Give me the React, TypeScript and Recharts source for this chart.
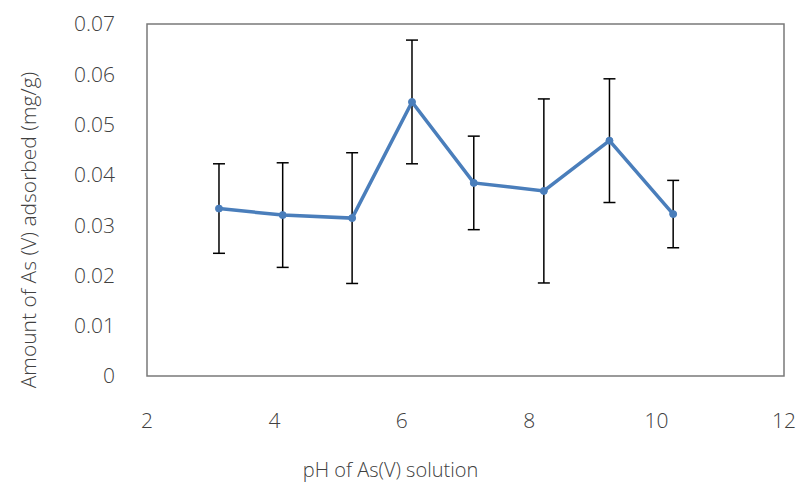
import React from 'react';
import {
  LineChart,
  Line,
  XAxis,
  YAxis,
  ErrorBar,
  ReferenceArea,
} from 'recharts';

// pH of the As(V) solution
const PH = [3.13, 4.13, 5.22, 6.16, 7.13, 8.23, 9.26, 10.26];
// amount of As(V) adsorbed (mg/g)
const ADSORBED = [0.0333, 0.032, 0.0314, 0.0545, 0.0384, 0.0368, 0.0468, 0.0322];
// standard deviation
const STD = [0.0089, 0.0104, 0.013, 0.0123, 0.0093, 0.0183, 0.0123, 0.0067];

const X_TICKS = [2, 4, 6, 8, 10, 12];
const Y_TICKS = [0, 0.01, 0.02, 0.03, 0.04, 0.05, 0.06, 0.07];

const X_TITLE = 'pH of As(V) solution';
const Y_TITLE = 'Amount of As (V) adsorbed (mg/g)';

const FONT = '"Open Sans", "Noto Sans", sans-serif';
const TEXT_COLOR = '#404040';

const data = PH.map((ph, i) => ({ ph, value: ADSORBED[i], err: STD[i] }));

export default function App() {
  return (
    <div style={{ position: 'absolute', left: 0, top: 0, width: 800, height: 483, background: '#fff' }}>
      <LineChart
        width={800}
        height={483}
        data={data}
        margin={{ top: 24, right: 16, left: 47, bottom: 47 }}
        style={{ fontFamily: FONT }}
      >
        <XAxis
          dataKey="ph"
          type="number"
          domain={[2, 12]}
          ticks={X_TICKS}
          axisLine={false}
          tickLine={false}
          tickSize={0}
          tickMargin={37}
          height={60}
          tick={{ fill: TEXT_COLOR, fontSize: 21, fontWeight: 300 }}
          label={{
            content: ({ viewBox }: any) => (
              <text
                x={viewBox.x + viewBox.width / 2 - 75}
                y={viewBox.y + viewBox.height + 41}
                textAnchor="middle"
                fill={TEXT_COLOR}
                fontSize={20}
                fontWeight={300}
                fontFamily={FONT}
              >
                {X_TITLE}
              </text>
            ),
          }}
        />
        <YAxis
          type="number"
          domain={[0, 0.07]}
          ticks={Y_TICKS}
          axisLine={false}
          tickLine={false}
          tickSize={0}
          tickMargin={32}
          width={100}
          tick={{ fill: TEXT_COLOR, fontSize: 21, fontWeight: 300 }}
          label={{
            content: ({ viewBox }: any) => {
              const cx = viewBox.x - 19;
              const cy = viewBox.y + viewBox.height / 2 + 30;
              return (
                <text
                  x={cx}
                  y={cy}
                  transform={`rotate(-90, ${cx}, ${cy})`}
                  textAnchor="middle"
                  dominantBaseline="central"
                  fill={TEXT_COLOR}
                  fontSize={21}
                  fontWeight={300}
                  fontFamily={FONT}
                >
                  {Y_TITLE}
                </text>
              );
            },
          }}
        />
        <ReferenceArea
          x1={2}
          x2={12}
          y1={0}
          y2={0.07}
          fill="none"
          stroke="#7a7a7a"
          strokeWidth={1.5}
          ifOverflow="visible"
        />
        <Line
          dataKey="value"
          stroke="#4a7ebb"
          strokeWidth={3.5}
          dot={{ r: 3.5, fill: '#4a7ebb', stroke: '#4a7ebb', strokeWidth: 1 }}
          isAnimationActive={false}
        >
          <ErrorBar dataKey="err" direction="y" width={6} stroke="#000" strokeWidth={1.5} />
        </Line>
      </LineChart>
    </div>
  );
}
